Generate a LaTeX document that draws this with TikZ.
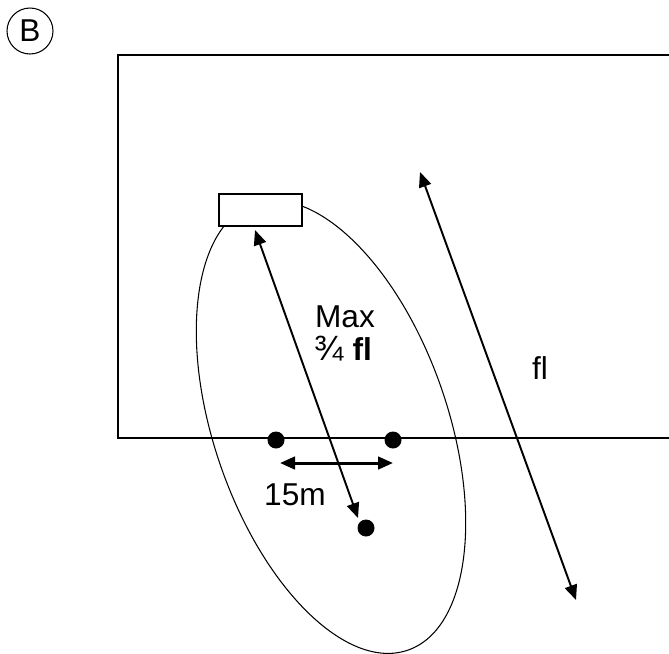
\documentclass[tikz,border=0pt]{standalone}
\usepackage{fontspec}
\setmainfont{Liberation Sans}
\usetikzlibrary{arrows.meta}
\tikzset{
  every picture/.style={line width=0.6pt},
  dot/.style={circle, fill=black, minimum size=0.34cm, inner sep=0pt},
  arrow/.style={{Triangle[length=3mm,width=2.5mm]}-{Triangle[length=3mm,width=2.5mm]}, line width=1.1pt},
  lab/.style={font=\fontsize{18}{21}\selectfont, inner sep=0pt},
}

\begin{document}
\begin{tikzpicture}[x=0.02cm, y=-0.02cm, pitch/.style={line width=0.8pt}, tee/.style={draw, fill=white, line width=0.8pt, minimum width=1.66cm, minimum height=0.64cm, inner sep=0pt}]
\useasboundingbox (0,0) rectangle (669,653);
% panel label
\node[lab, draw, circle, minimum size=0.92cm, line width=0.6pt] (panel) at (30,31) {B};
% field, open on the right
\draw[pitch] (669,55) -- (118,55) -- (118,438) -- (669,438);
% range ellipse, then the box on top of it
\draw[rotate around={19:(331,427)}] (331,427) ellipse [x radius=117, y radius=236];
\node[tee] (box) at (260.5,210) {};
% points
\node[dot] (d1) at (276,440) {};
\node[dot] (d2) at (393,440) {};
\node[dot] (d3) at (366,528) {};
% arrows
\coordinate (m1) at (255,230);
\coordinate (m2) at (358,518);
\coordinate (f1) at (420,172);
\coordinate (f2) at (576,600);
\coordinate (h1) at (280,463);
\coordinate (h2) at (393,463);
\draw[arrow] (m1) -- (m2);
\draw[arrow] (f1) -- (f2);
\draw[arrow, line width=1.7pt] (h1) -- (h2);
% labels
\node[lab] (max) at (345,317) {Max};
\node[lab] (frac) at (343,349) {{\fontsize{20}{21}\selectfont¾} \textbf{fl}};
\node[lab] (fl) at (540,368) {fl};
\node[lab] (dist) at (295,495) {15m};
\end{tikzpicture}
\end{document}
